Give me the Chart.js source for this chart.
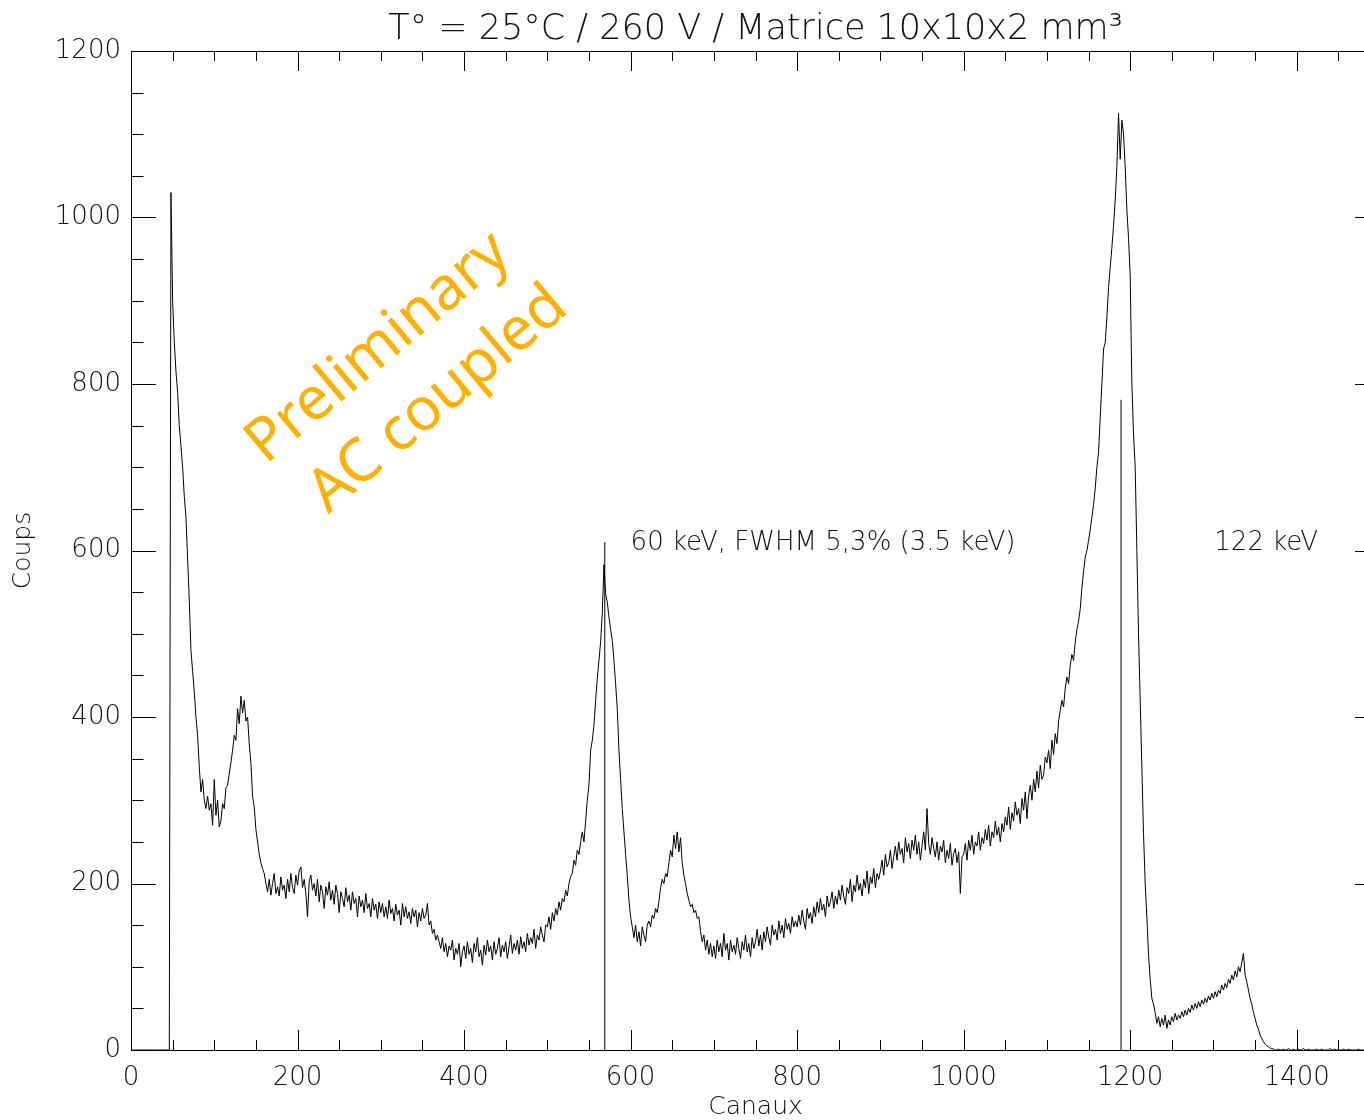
<!DOCTYPE html>
<html>
<head>
<meta charset="utf-8">
<title>Spectre 10x10x2 mm3</title>
<script src="https://cdn.jsdelivr.net/npm/chart.js@4.4.1/dist/chart.umd.min.js"></script>
<style>
  html, body { margin: 0; padding: 0; background: #fff; overflow: hidden; }
  #wrap { width: 1400px; height: 1130px; }
</style>
</head>
<body>
<div id="wrap"><canvas id="spectrum" width="1400" height="1130"></canvas></div>
<script>
'use strict';

// counts per channel, every 2 channels (one row = 100 channels)
var firstChannel = 0;
var channelStep = 2;
var counts = [
    /*    0 */ 0, 0, 0, 0, 0, 0, 0, 0, 0, 0, 0, 0, 0, 0, 0, 0, 0, 0, 0, 0, 0, 0, 0, 0,
               1030, 900, 850, 815, 790, 750, 725, 700, 665, 640, 590, 540, 480, 455, 430, 400, 378, 340, 310, 325, 300, 290, 305, 288, 296, 270,
    /*  100 */ 325, 282, 300, 268, 275, 296, 290, 315, 318, 332, 345, 360, 378, 372, 410, 392, 425, 405, 420, 395,
               400, 368, 345, 305, 292, 265, 250, 235, 225, 218, 212, 200, 190, 205, 186, 200, 212, 188, 196, 185,
               208, 192, 198, 182, 205, 190, 212, 195, 188, 210,
    /*  200 */ 198, 215, 220, 195, 205, 188, 160, 202, 210, 192, 200, 185, 205, 178, 198, 190, 170, 196, 186, 202,
               180, 192, 175, 198, 188, 165, 190, 182, 172, 195, 178, 186, 168, 190, 176, 182, 160, 185, 172, 180,
               165, 188, 170, 176, 160, 182, 168, 175, 158, 178,
    /*  300 */ 165, 176, 160, 172, 158, 180, 164, 170, 155, 175, 162, 168, 150, 176, 160, 172, 158, 166, 152, 170,
               160, 168, 148, 165, 155, 170, 158, 162, 176, 150, 155, 140, 145, 132, 138, 130, 122, 135, 118, 128,
               112, 125, 120, 132, 108, 122, 115, 128, 100, 118,
    /*  400 */ 125, 110, 130, 115, 122, 105, 128, 118, 135, 112, 120, 102, 126, 114, 132, 118, 125, 108, 130, 115,
               122, 135, 112, 126, 118, 130, 110, 124, 138, 116, 128, 120, 132, 115, 136, 122, 130, 118, 140, 126,
               135, 128, 145, 122, 138, 132, 148, 138, 130, 150,
    /*  500 */ 148, 160, 145, 165, 155, 170, 162, 178, 168, 182, 178, 192, 185, 200, 208, 212, 228, 222, 240, 235,
               250, 262, 250, 275, 300, 318, 360, 372, 390, 420, 446, 468, 490, 525, 583, 548, 538, 520, 505, 492,
               468, 440, 410, 360, 325, 290, 262, 235, 210, 180,
    /*  600 */ 160, 148, 135, 150, 130, 142, 125, 148, 138, 130, 150, 155, 148, 162, 158, 170, 165, 178, 195, 205,
               200, 212, 208, 225, 240, 232, 258, 242, 262, 238, 255, 225, 210, 200, 188, 180, 172, 175, 165, 168,
               158, 160, 142, 130, 138, 120, 132, 115, 128, 112,
    /*  700 */ 125, 110, 132, 118, 128, 112, 140, 120, 128, 108, 132, 118, 126, 115, 135, 122, 110, 130, 120, 138,
               118, 128, 112, 135, 122, 130, 145, 125, 138, 120, 142, 130, 148, 135, 126, 150, 138, 145, 132, 155,
               140, 150, 135, 158, 145, 152, 140, 160, 148, 155,
    /*  800 */ 148, 162, 150, 168, 155, 145, 170, 158, 165, 152, 172, 160, 178, 165, 182, 168, 175, 160, 185, 172,
               178, 190, 170, 185, 175, 192, 180, 198, 185, 175, 195, 188, 205, 178, 198, 190, 210, 192, 200, 185,
               205, 195, 215, 188, 208, 200, 218, 195, 212, 205,
    /*  900 */ 215, 228, 210, 235, 220, 225, 240, 218, 232, 245, 228, 250, 235, 242, 225, 255, 238, 248, 230, 252,
               240, 258, 235, 250, 228, 245, 262, 240, 290, 248, 235, 255, 242, 232, 250, 228, 245, 238, 252, 225,
               240, 230, 248, 222, 236, 242, 225, 238, 188, 232,
    /* 1000 */ 235, 248, 228, 252, 240, 258, 235, 250, 245, 262, 240, 255, 248, 265, 252, 270, 245, 262, 255, 275,
               258, 268, 250, 272, 262, 280, 270, 292, 265, 285, 275, 298, 282, 290, 272, 302, 288, 310, 278, 305,
               318, 300, 325, 310, 335, 315, 342, 325, 330, 352,
    /* 1100 */ 345, 360, 338, 372, 355, 380, 368, 395, 408, 420, 412, 435, 448, 440, 462, 475, 468, 490, 505, 515,
               530, 555, 575, 592, 600, 612, 625, 640, 655, 675, 700, 718, 760, 800, 842, 850, 880, 916, 940, 964,
               990, 1021, 1061, 1125, 1070, 1117, 1100, 1060, 1009, 975,
    /* 1200 */ 930, 800, 740, 700, 600, 500, 420, 340, 260, 200, 160, 115, 85, 62, 55, 45, 32, 40, 28, 38,
               30, 42, 26, 36, 30, 40, 34, 44, 36, 42, 38, 46, 40, 48, 42, 50, 45, 54, 48, 56,
               50, 58, 52, 60, 55, 62, 57, 65, 60, 68,
    /* 1300 */ 62, 70, 64, 72, 68, 78, 72, 80, 75, 85, 80, 90, 84, 95, 88, 100, 94, 105, 116, 90,
               82, 72, 62, 55, 45, 38, 30, 25, 18, 14, 10, 7, 5, 4, 2, 2, 1, 0, 0, 1,
               0, 0, 1, 0, 0, 2, 0, 0, 1, 0,
    /* 1400 */ 0, 1, 0, 0, 2, 0, 0, 1, 0, 0, 0, 0, 1, 0, 0, 1, 0, 0, 0, 0,
               2, 0, 0, 1, 0, 0, 0, 0, 1, 0, 0, 1, 0, 0, 0, 0, 0, 1, 0, 0,
               0, 0, 0, 0, 1, 0, 0, 0, 0, 0,
    /* 1500 */ 0
];

// peak markers (vertical lines) and their labels
var markerChannels = [569, 1189];
var markerTops = [610, 781];
var peakLabels = ['60 keV, FWHM 5,3% (3.5 keV)', '122 keV'];
var peakLabelChannels = [600, 1301];
var peakLabelCounts = [609, 609];

// watermark
var stampLines = ['Preliminary', 'AC coupled'];
var stampChannels = [297, 369];
var stampCounts = [843, 781];

var titleText = 'T° = 25°C / 260 V / Matrice 10x10x2 mm³';
var xMax = 1500, xMajor = 200, xMinor = 50;
var yMax = 1200, yMajor = 200, yMinor = 50;

var textFamily = '"DejaVu Sans", "Liberation Sans", sans-serif';
var textColor = '#111';

var spectrum = counts.map(function (c, i) {
    return {x: firstChannel + i * channelStep, y: c};
});

var markerSets = markerChannels.map(function (ch, i) {
    return {
        data: [{x: ch, y: 0}, {x: ch, y: markerTops[i]}],
        borderColor: '#000',
        borderWidth: 1,
        pointRadius: 0
    };
});

// IDL style box: ticks pointing inward on all four sides
var boxTicks = {
    id: 'boxTicks',
    afterDatasetsDraw: function (chart) {
        var ctx = chart.ctx, a = chart.chartArea, x = chart.scales.x, y = chart.scales.y;
        var xLen = 0.02 * (a.bottom - a.top), yLen = 0.02 * (a.right - a.left);
        var v, p, len;
        ctx.save();
        ctx.strokeStyle = '#000';
        ctx.lineWidth = 1;
        ctx.beginPath();
        for (v = 0; v <= xMax; v += xMinor) {
            p = Math.round(x.getPixelForValue(v)) + 0.5;
            len = v % xMajor === 0 ? xLen : xLen / 2;
            ctx.moveTo(p, a.bottom); ctx.lineTo(p, a.bottom - len);
            ctx.moveTo(p, a.top); ctx.lineTo(p, a.top + len);
        }
        for (v = 0; v <= yMax; v += yMinor) {
            p = Math.round(y.getPixelForValue(v)) + 0.5;
            len = v % yMajor === 0 ? yLen : yLen / 2;
            ctx.moveTo(a.left, p); ctx.lineTo(a.left + len, p);
            ctx.moveTo(a.right, p); ctx.lineTo(a.right - len, p);
        }
        ctx.stroke();
        ctx.strokeRect(Math.round(a.left) + 0.5, Math.round(a.top) + 0.5,
            Math.round(a.right - a.left), Math.round(a.bottom - a.top));
        ctx.restore();
    }
};

var annotations = {
    id: 'annotations',
    afterDraw: function (chart) {
        var ctx = chart.ctx, x = chart.scales.x, y = chart.scales.y;
        ctx.save();
        ctx.fillStyle = textColor;
        ctx.font = '200 26px ' + textFamily;
        ctx.textAlign = 'left';
        ctx.textBaseline = 'middle';
        peakLabels.forEach(function (txt, i) {
            ctx.fillText(txt, x.getPixelForValue(peakLabelChannels[i]), y.getPixelForValue(peakLabelCounts[i]));
        });
        ctx.fillStyle = '#FFB000';
        ctx.font = '60px "Noto Sans", sans-serif';
        ctx.textAlign = 'center';
        stampLines.forEach(function (txt, i) {
            ctx.save();
            ctx.translate(x.getPixelForValue(stampChannels[i]), y.getPixelForValue(stampCounts[i]));
            ctx.rotate(-40 * Math.PI / 180);
            ctx.fillText(txt, 0, 0);
            ctx.restore();
        });
        ctx.restore();
    }
};

var tickFont = {family: textFamily, size: 26, weight: 200};
var plainLabel = function (value) {
    return String(value);
};

var ctx = document.getElementById('spectrum');
//noinspection JSUnusedLocalSymbols
var chart = new Chart(ctx, {
    type: 'line',
    data: {
        datasets: [{
            data: spectrum,
            borderColor: '#000',
            borderWidth: 1,
            borderJoinStyle: 'round',
            pointRadius: 0,
            tension: 0,
            fill: false
        }].concat(markerSets)
    },
    options: {
        responsive: false,
        animation: false,
        events: [],
        layout: {padding: {right: 20}},
        plugins: {
            legend: {display: false},
            tooltip: {enabled: false},
            title: {
                display: true,
                fullSize: false,
                text: titleText,
                color: textColor,
                font: {family: textFamily, size: 35, weight: 200},
                padding: {top: 9, bottom: 0}
            }
        },
        scales: {
            x: {
                type: 'linear',
                min: 0,
                max: xMax,
                afterFit: function (s) { s.height = 80; },
                grid: {display: false, drawTicks: false},
                border: {display: false},
                ticks: {
                    stepSize: xMajor,
                    includeBounds: false,
                    autoSkip: false,
                    maxRotation: 0,
                    padding: 13,
                    color: textColor,
                    font: tickFont,
                    callback: plainLabel
                },
                title: {
                    display: true,
                    text: 'Canaux',
                    color: textColor,
                    font: {family: textFamily, size: 25, weight: 200},
                    padding: {top: 0, bottom: 8}
                }
            },
            y: {
                type: 'linear',
                min: 0,
                max: yMax,
                afterFit: function (s) { s.width = 131; },
                grid: {display: false, drawTicks: false},
                border: {display: false},
                ticks: {
                    stepSize: yMajor,
                    autoSkip: false,
                    padding: 10,
                    color: textColor,
                    font: tickFont,
                    callback: plainLabel
                },
                title: {
                    display: true,
                    text: 'Coups',
                    color: textColor,
                    font: {family: textFamily, size: 25, weight: 200},
                    padding: {top: 8, bottom: 0}
                }
            }
        }
    },
    plugins: [boxTicks, annotations]
});
</script>
</body>
</html>
